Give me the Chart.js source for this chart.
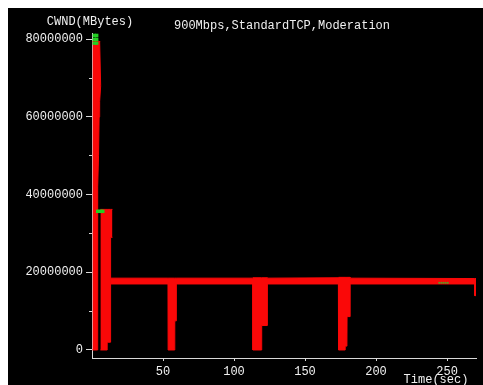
<!DOCTYPE html>
<html>
<head>
<meta charset="utf-8">
<script src="https://cdn.jsdelivr.net/npm/chart.js@4/dist/chart.umd.min.js"></script>
<style>
  html, body { margin: 0; padding: 0; background: #fff; }
  #frame { position: absolute; left: 8px; top: 8px; width: 475px; height: 377px; background: #000; }
</style>
</head>
<body>
<div id="frame"><canvas id="cwnd"></canvas></div>
<script>
const CHART_TITLE = '900Mbps,StandardTCP,Moderation';
const Y_TITLE = 'CWND(MBytes)';
const X_TITLE = 'Time(sec)';

const xTicks = [50, 100, 150, 200, 250];
const yTicks = [0, 20000000, 40000000, 60000000, 80000000];
const yMinorTicks = [10000000, 30000000, 50000000, 70000000];

// slow start: window climbs to ~80 MB
const burst1Time = [0.3, 3.9, 4.0, 4.6, 5.0, 5.4, 6.1];
const burst1High = [79.5e6, 79.5e6, 79.5e6, 79.5e6, 79.5e6, 79.3e6, 68.0e6];
const burst1Low  = [0, 0, 42.0e6, 50.0e6, 60.0e6, 64.0e6, 68.0e6];

// second burst after the first collapse
const burst2Time = [5.9, 10.6, 10.7, 13.0, 13.1, 14.4];
const burst2High = [36.2e6, 36.2e6, 36.2e6, 36.2e6, 36.2e6, 36.2e6];
const burst2Low  = [0, 0, 2.0e6, 2.0e6, 29.0e6, 29.0e6];

// moderated window band with periodic drops
const bandTime = [13.0, 53.5, 53.6, 58.2, 58.3, 59.3, 59.4, 113.2, 113.3, 119.4, 119.5, 123.4, 123.5,
                  173.5, 173.6, 178.2, 178.3, 179.5, 179.6, 181.7, 181.8, 269.4, 269.5, 270.4];
const bandHigh = [18.5e6, 18.5e6, 18.5e6, 18.5e6, 18.5e6, 18.5e6, 18.5e6, 18.5e6, 18.6e6, 18.6e6, 18.6e6, 18.6e6, 18.5e6,
                  18.6e6, 18.7e6, 18.7e6, 18.7e6, 18.7e6, 18.7e6, 18.7e6, 18.5e6, 18.4e6, 18.4e6, 18.4e6];
const bandLow  = [17.0e6, 17.0e6, 0, 0, 7.5e6, 7.5e6, 17.0e6, 17.0e6, 0, 0, 6.3e6, 6.3e6, 17.0e6,
                  17.0e6, 0, 0, 1.0e6, 1.0e6, 8.6e6, 8.6e6, 17.0e6, 17.0e6, 14.0e6, 14.0e6];

// ssthresh markers
const markTime = [1.6, 1.6, 1.6, 3.3, 3.3, 3.3, 4.0, 5.2, 6.4, 7.6];
const markValue = [79.0e6, 80.0e6, 81.0e6, 79.0e6, 80.0e6, 81.0e6, 35.7e6, 35.7e6, 35.7e6, 35.7e6];
const faintMarkTime = [244.5, 246.0, 247.5, 249.0, 250.5];
const faintMarkValue = [17.3e6, 17.3e6, 17.3e6, 17.3e6, 17.3e6];

const RED = 'rgb(250,8,8)';
const AXIS = '#d8d8d8';
const TEXT = '#f0f0f0';
const FONT = { family: '"Liberation Mono", "DejaVu Sans Mono", monospace', size: 12 };

const pts = (xs, ys) => xs.map((x, i) => ({ x: x, y: ys[i] }));

function envelope(xs, hi, lo) {
  return [
    { data: pts(xs, hi), fill: '+1', backgroundColor: RED, borderColor: RED, borderWidth: 1, pointRadius: 0, order: 2 },
    { data: pts(xs, lo), fill: false, borderColor: RED, borderWidth: 1, pointRadius: 0, order: 2 }
  ];
}

const textPlugin = {
  id: 'axisText',
  afterDraw(chart) {
    const ctx = chart.ctx;
    ctx.save();
    ctx.fillStyle = TEXT;
    ctx.font = FONT.size + 'px ' + FONT.family;
    ctx.textAlign = 'center';
    ctx.textBaseline = 'middle';
    ctx.fillText(Y_TITLE, 82, 14);
    ctx.fillText(CHART_TITLE, 274, 18);
    ctx.fillText(X_TITLE, 428, 372);
    ctx.restore();
  }
};

new Chart(document.getElementById('cwnd'), {
  type: 'line',
  data: {
    datasets: [
      ...envelope(burst1Time, burst1High, burst1Low),
      ...envelope(burst2Time, burst2High, burst2Low),
      ...envelope(bandTime, bandHigh, bandLow),
      { data: pts(markTime, markValue), showLine: false, pointStyle: 'rect', pointRadius: 2.4,
        backgroundColor: '#22d022', borderWidth: 0, order: 0 },
      { data: pts(faintMarkTime, faintMarkValue), showLine: false, pointStyle: 'rect', pointRadius: 1.3,
        backgroundColor: '#5a9a22', borderWidth: 0, order: 0 }
    ]
  },
  options: {
    responsive: true,
    maintainAspectRatio: false,
    animation: false,
    layout: { padding: { top: 25, right: 7, left: 0, bottom: 0 } },
    plugins: { legend: { display: false }, tooltip: { enabled: false }, title: { display: false } },
    scales: {
      x: {
        type: 'linear', position: 'bottom', min: 0, max: 270.4,
        border: { color: AXIS, width: 1 },
        grid: { drawOnChartArea: false, tickLength: 3, color: AXIS },
        ticks: { color: TEXT, font: FONT, padding: 4, maxRotation: 0, autoSkip: false },
        afterBuildTicks: s => { s.ticks = xTicks.map(v => ({ value: v })); },
        afterFit: s => { s.height = 27; s.paddingLeft = 0; s.paddingRight = 0; }
      },
      y: {
        type: 'linear', position: 'left', weight: 1, min: -2.06e6, max: 81.62e6,
        border: { color: AXIS, width: 1 },
        grid: { drawOnChartArea: false, tickLength: 6, color: AXIS },
        ticks: { color: TEXT, font: FONT, padding: 3, callback: v => String(v) },
        afterBuildTicks: s => { s.ticks = yTicks.map(v => ({ value: v })); },
        afterFit: s => { s.width = 84; s.paddingTop = 0; s.paddingBottom = 0; }
      },
      yMinor: {
        type: 'linear', position: 'left', weight: 0, display: true, min: -2.06e6, max: 81.62e6,
        border: { display: false },
        grid: { drawOnChartArea: false, tickLength: 3, color: AXIS },
        ticks: { display: false },
        afterBuildTicks: s => { s.ticks = yMinorTicks.map(v => ({ value: v })); },
        afterFit: s => { s.width = 0; s.paddingTop = 0; s.paddingBottom = 0; }
      }
    }
  },
  plugins: [textPlugin]
});
</script>
</body>
</html>
